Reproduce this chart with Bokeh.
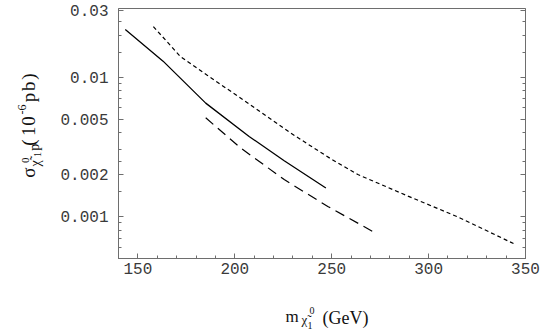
import math
from bokeh.plotting import figure
from bokeh.models import FixedTicker, LogAxis, Label, CustomLabelingPolicy
from bokeh.layouts import row, column
from bokeh.embed import file_html
from bokeh.resources import INLINE

# ---- data ----
solid_x = [143.5, 163.0, 185.0, 207.4, 225.5, 247.0]
solid_y = [0.0219, 0.0130, 0.0065, 0.00375, 0.00251, 0.0016]

dash_x = [185.0, 203.0, 225.5, 248.0, 272.0]
dash_y = [0.0051, 0.0031, 0.00184, 0.00118, 0.00077]

dot_x = [158.0, 172.0, 185.8, 208.2, 228.9, 249.6, 263.5, 289.4, 315.3, 343.8]
dot_y = [0.0230, 0.0140, 0.0103, 0.0063, 0.00396, 0.00259, 0.0020, 0.0014, 0.00099, 0.00064]

x_ticks = [150, 200, 250, 300, 350]
x_minor = list(range(140, 351, 10))
y_ticks = [0.001, 0.002, 0.005, 0.01, 0.03]
y_tick_labels = ["0.001", "0.002", "0.005", "0.01", "0.03"]
y_minor = ([k * 1e-4 for k in range(5, 10)] + [k * 1e-3 for k in range(1, 10)]
           + [1.5e-3, 2.5e-3] + [k * 1e-2 for k in range(1, 4)] + [0.015, 0.025])

FRAME_GRAY = "#6e6e6e"
TICK_FONT = "Liberation Mono"
SERIF = "Liberation Serif"

W, H = 545, 332
YT_W = 50          # width of the y-title strip
MAIN_H = 288       # height of the main figure

p = figure(width=W - YT_W, height=MAIN_H, y_axis_type="log",
           x_range=(140, 350), y_range=(0.0005, 0.031),
           output_backend="svg", toolbar_location=None,
           min_border_left=68, min_border_right=20,
           min_border_top=8, min_border_bottom=30)
p.grid.visible = False
p.outline_line_color = FRAME_GRAY
p.outline_line_width = 1

p.line(solid_x, solid_y, line_color="black", line_width=1.3)
p.line(dash_x, dash_y, line_color="black", line_width=1.2, line_dash="10 6")
p.line(dot_x, dot_y, line_color="black", line_width=1.2, line_dash="4 3")

xa = p.xaxis[0]
xa.ticker = FixedTicker(ticks=x_ticks, minor_ticks=x_minor)
ya = p.yaxis[0]
ya.ticker = FixedTicker(ticks=y_ticks, minor_ticks=y_minor)
ya.major_label_overrides = {t: s for t, s in zip(y_ticks, y_tick_labels)}

ra = LogAxis(ticker=FixedTicker(ticks=y_ticks, minor_ticks=y_minor),
             major_label_policy=CustomLabelingPolicy(code="return []"),
             major_label_text_font_size="0px",
             major_label_standoff=0)
p.add_layout(ra, "right")

for ax in [xa, ya, ra]:
    ax.axis_line_color = FRAME_GRAY
    ax.major_tick_line_color = FRAME_GRAY
    ax.minor_tick_line_color = FRAME_GRAY
    ax.major_tick_in = 5
    ax.major_tick_out = 0
    ax.minor_tick_in = 3
    ax.minor_tick_out = 0
for ax in [xa, ya]:
    ax.major_label_text_font = TICK_FONT
    ax.major_label_text_font_size = "16px"
    ax.major_label_text_color = "#3a3a3a"
xa.major_label_standoff = 4
ya.major_label_standoff = 10


def strip(width, height):
    f = figure(width=width, height=height, x_range=(0, width), y_range=(0, height),
               output_backend="svg", toolbar_location=None,
               min_border=0, x_axis_location=None, y_axis_location=None)
    f.grid.visible = False
    f.outline_line_color = None
    return f


def lab(f, txt, x, y, size, angle=0.0):
    f.add_layout(Label(x=x, y=y, text=txt, angle=angle, text_font=SERIF,
                       text_font_size=f"{size}px", text_color="#111111",
                       text_align="left", text_baseline="alphabetic"))


# y title strip: sigma_{chi~^0_1 p} (10^-6 pb) ; (text, baseline x, start y, size) in picture pixels
yt = strip(YT_W, MAIN_H)
a = math.pi / 2
for txt, px, py, sz in [("\u03c3", 28, 195, 19), ("\u03c7\u0303", 35, 182, 14),
                        ("0", 25, 178, 11), ("1", 37, 171, 10), ("p", 34, 164, 14),
                        ("(", 28, 158, 19), ("1", 28, 147, 19), ("0", 28, 135, 19),
                        ("-6", 21, 122, 12),
                        ("p", 28, 108, 19), ("b", 28, 95, 19), (")", 28, 82, 19)]:
    lab(yt, txt, px, MAIN_H - py, sz, a)

# x title strip: m_{chi~^0_1} (GeV)
XT_H = H - MAIN_H
xt = strip(W, XT_H)
for txt, px, py, sz in [("m", 285, 316, 17), ("\u03c7\u0303", 301, 319, 13),
                        ("0", 309, 310, 10), ("1", 307, 325, 10), ("(GeV)", 322, 317, 18)]:
    lab(xt, txt, px, H - py, sz)

layout = column(row(yt, p), xt)
open("out.html", "w").write(file_html(layout, INLINE))
